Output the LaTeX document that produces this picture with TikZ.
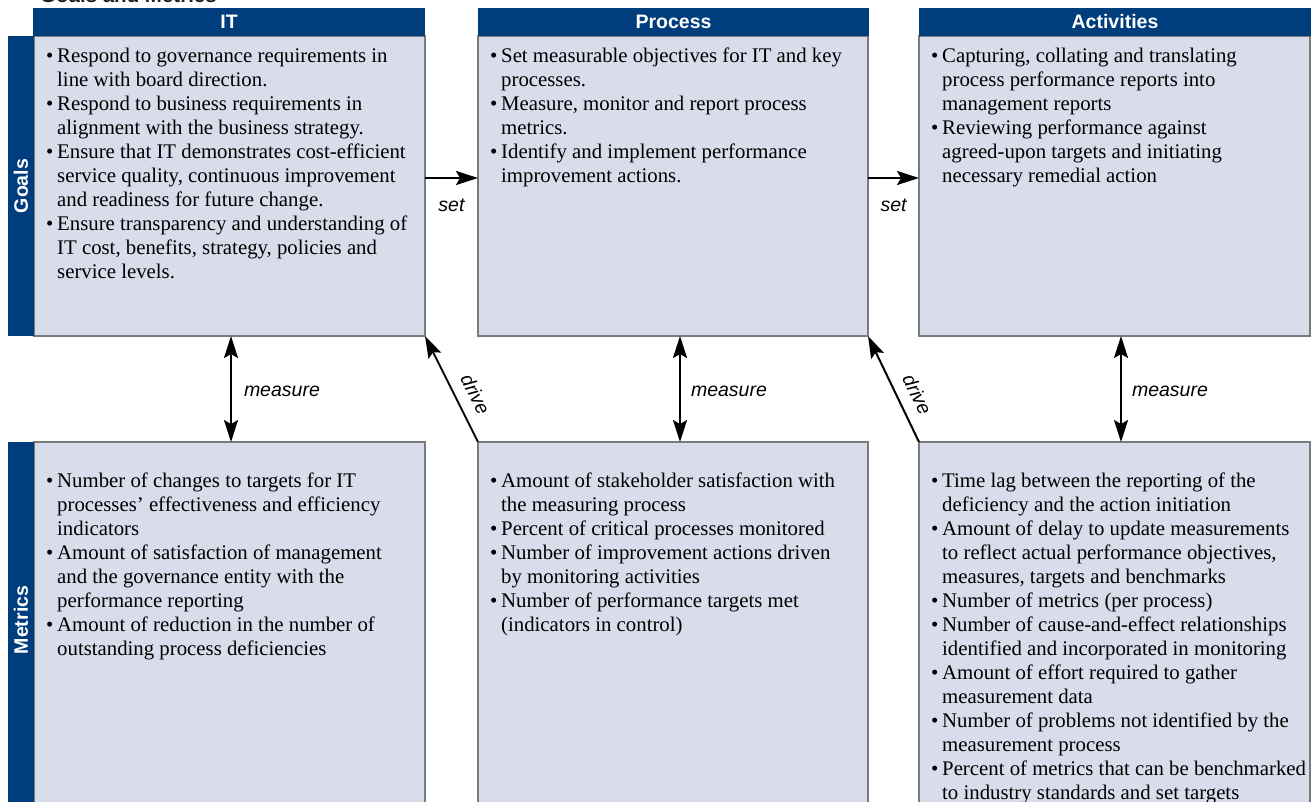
\documentclass[tikz,border=0pt]{standalone}
\usepackage{fontspec}
\setmainfont{Liberation Serif}
\setsansfont{Liberation Sans}
\usetikzlibrary{arrows.meta}
\definecolor{hdrblue}{HTML}{003D7C}
\definecolor{boxfill}{HTML}{D9DCEA}
\definecolor{boxline}{HTML}{7A7A7A}
\definecolor{titlecol}{HTML}{231F20}
\newcommand\bul{\makebox[11pt][l]{\textbullet}}
\newcommand\ind{\hspace*{11pt}}
\newcommand\firstl{\rule{0pt}{19pt}}
\tikzset{
  panel/.style={draw=boxline, line width=1.4pt, fill=boxfill, anchor=north west, inner sep=0pt, outer sep=0pt},
  hdr/.style={fill=hdrblue, anchor=north west, inner sep=0pt, outer sep=0pt, minimum height=28pt, text=white, font=\sffamily\bfseries\fontsize{19.5}{22}\selectfont},
  sidebar/.style={fill=hdrblue, anchor=north west, inner sep=0pt, outer sep=0pt, minimum width=26pt},
  sidelabel/.style={text=white, font=\sffamily\bfseries\fontsize{19.5}{22}\selectfont, rotate=90, inner sep=0pt},
  bodytext/.style={anchor=north west, align=left, inner sep=0pt, font=\fontsize{20.8}{24}\selectfont},
  conn/.style={line width=2pt, draw=black},
  lbl/.style={font=\sffamily\itshape\fontsize{19.5}{22}\selectfont, inner sep=0pt},
}
\begin{document}
\begin{tikzpicture}[x=1pt, y=-1pt, >={Stealth[length=22pt, width=14pt, inset=4pt]}]
\useasboundingbox (0,0) rectangle (1311,801);
\clip (0,0) rectangle (1311,801);
% title (cut off at top)
\node[anchor=base west, inner sep=0pt, text=titlecol, font=\sffamily\bfseries\fontsize{20.5}{22}\selectfont] (title) at (40,2) {Goals and Metrics};
% panels
\node[panel, minimum width=391pt, minimum height=300pt] (itg) at (34,36) {};
\node[panel, minimum width=390pt, minimum height=300pt] (prg) at (478,36) {};
\node[panel, minimum width=391pt, minimum height=300pt] (acg) at (919,36) {};
\node[panel, minimum width=391pt, minimum height=400pt] (itm) at (34,442) {};
\node[panel, minimum width=390pt, minimum height=400pt] (prm) at (478,442) {};
\node[panel, minimum width=391pt, minimum height=400pt] (acm) at (919,442) {};
% headers
\node[hdr, minimum width=392pt] (hit) at (33,8) {\raisebox{-1pt}{IT}};
\node[hdr, minimum width=391pt] (hpr) at (478,8) {\raisebox{-1pt}{Process}};
\node[hdr, minimum width=392pt] (hac) at (919,8) {\raisebox{-1pt}{Activities}};
% side bars
\node[sidebar, minimum height=300pt] (sgoals) at (8,36) {};
\node[sidelabel] (lgoals) at (sgoals.center) {Goals};
\node[sidebar, minimum height=400pt] (smetrics) at (8,442) {};
\node[sidelabel] (lmetrics) at (21,620) {Metrics};
% texts
\node[bodytext] (t1) at (46,43.5) {\firstl\bul Respond to governance requirements in\\
\ind line with board direction.\\
\bul Respond to business requirements in\\
\ind alignment with the business strategy.\\
\bul Ensure that IT demonstrates cost-efficient\\
\ind service quality, continuous improvement\\
\ind and readiness for future change.\\
\bul Ensure transparency and understanding of\\
\ind IT cost, benefits, strategy, policies and\\
\ind service levels.};
\node[bodytext] (t2) at (490,43.5) {\firstl\bul Set measurable objectives for IT and key\\
\ind processes.\\
\bul Measure, monitor and report process\\
\ind metrics.\\
\bul Identify and implement performance\\
\ind improvement actions.};
\node[bodytext] (t3) at (931,43.5) {\firstl\bul Capturing, collating and translating\\
\ind process performance reports into\\
\ind management reports\\
\bul Reviewing performance against\\
\ind agreed-upon targets and initiating\\
\ind necessary remedial action};
\node[bodytext] (t4) at (46,468.5) {\firstl\bul Number of changes to targets for IT\\
\ind processes’ effectiveness and efficiency\\
\ind indicators\\
\bul Amount of satisfaction of management\\
\ind and the governance entity with the\\
\ind performance reporting\\
\bul Amount of reduction in the number of\\
\ind outstanding process deficiencies};
\node[bodytext] (t5) at (490,468.5) {\firstl\bul Amount of stakeholder satisfaction with\\
\ind the measuring process\\
\bul Percent of critical processes monitored\\
\bul Number of improvement actions driven\\
\ind by monitoring activities\\
\bul Number of performance targets met\\
\ind (indicators in control)};
\node[bodytext] (t6) at (931,468.5) {\firstl\bul Time lag between the reporting of the\\
\ind deficiency and the action initiation\\
\bul Amount of delay to update measurements\\
\ind to reflect actual performance objectives,\\
\ind measures, targets and benchmarks\\
\bul Number of metrics (per process)\\
\bul Number of cause-and-effect relationships\\
\ind identified and incorporated in monitoring\\
\bul Amount of effort required to gather\\
\ind measurement data\\
\bul Number of problems not identified by the\\
\ind measurement process\\
\bul Percent of metrics that can be benchmarked\\
\ind to industry standards and set targets};
% set arrows
\draw[conn, ->] ([yshift=8pt]itg.east) -- ([yshift=8pt]prg.west)
  node[lbl, midway, yshift=-27pt] {set};
\draw[conn, ->] ([yshift=8pt]prg.east) -- ([yshift=8pt]acg.west)
  node[lbl, midway, yshift=-27pt] {set};
% measure arrows
\draw[conn, <->] ([xshift=1.5pt]itg.south) -- ([xshift=1.5pt]itm.north)
  node[lbl, midway, anchor=west, xshift=12pt, yshift=-2pt] {measure};
\draw[conn, <->] ([xshift=7pt]prg.south) -- ([xshift=7pt]prm.north)
  node[lbl, midway, anchor=west, xshift=10pt, yshift=-2pt] {measure};
\draw[conn, <->] ([xshift=6.5pt]acg.south) -- ([xshift=6.5pt]acm.north)
  node[lbl, midway, anchor=west, xshift=10pt, yshift=-2pt] {measure};
% drive arrows
\draw[conn, ->] (prm.north west) -- (itg.south east)
  node[lbl, pos=0.37, sloped, above=11pt] {drive};
\draw[conn, ->] (acm.north west) -- (prg.south east)
  node[lbl, pos=0.37, sloped, above=11pt] {drive};
\end{tikzpicture}
\end{document}
